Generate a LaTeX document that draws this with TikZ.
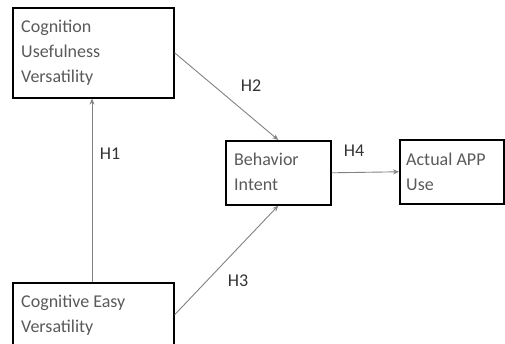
\documentclass[tikz,border=0pt]{standalone}
\usepackage{fontspec}
\setmainfont{Carlito}
\usetikzlibrary{arrows.meta}
\definecolor{txt}{RGB}{90,90,90}
\definecolor{ln}{RGB}{130,130,130}
\begin{document}
\begin{tikzpicture}[x=1pt,y=-1pt,
  box/.style={draw=black,line width=1.6pt,fill=white,inner sep=0pt},
  lbl/.style={text=txt,font=\fontsize{18}{25}\selectfont,align=left,anchor=base west,inner sep=0pt},
  conn/.style={draw=ln,line width=0.9pt,-{Stealth[length=6pt,width=5pt]}},
  hl/.style={text=black!80,font=\fontsize{18}{20}\selectfont,inner sep=0pt,anchor=base}]
\useasboundingbox (0,0) rectangle (505,344);
\node[box,minimum width=161,minimum height=90,anchor=north west] (cu) at (12,7) {};
\node[lbl] (t1) at (21,83) {Cognition\\Usefulness\\Versatility};
\node[box,minimum width=161,minimum height=64,anchor=north west] (ce) at (12,282) {};
\node[lbl] (t2) at (21,332) {Cognitive Easy\\Versatility};
\node[box,minimum width=105,minimum height=64,anchor=north west] (bi) at (225,140) {};
\node[lbl] (t3) at (234,191) {Behavior\\Intent};
\node[box,minimum width=104,minimum height=64,anchor=north west] (au) at (399,139) {};
\node[lbl] (t4) at (406,191) {Actual APP\\Use};
\draw[conn] (ce.north west) ++(80,0) coordinate (a1) -- (a1 |- cu.south);
\draw[conn] (cu.east) -- (bi.north);
\draw[conn] (ce.east) -- (bi.south);
\draw[conn] (bi.east) -- (au.west);
\node[hl] (h1) at (110,160) {H1};
\node[hl] (h2) at (251,92) {H2};
\node[hl] (h3) at (238,286) {H3};
\node[hl] (h4) at (354,157) {H4};
\end{tikzpicture}
\end{document}
